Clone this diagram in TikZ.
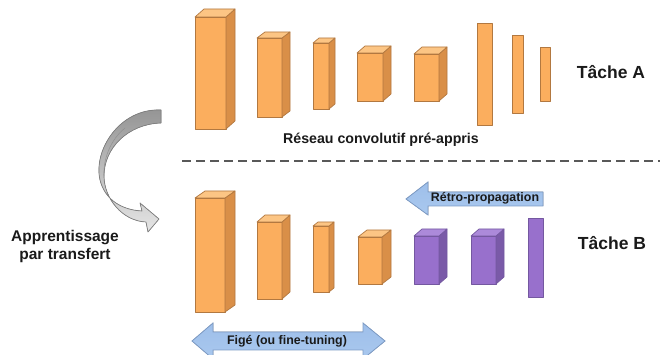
\documentclass[tikz,border=0pt]{standalone}
\usepackage{fontspec}
\setmainfont{Liberation Sans}
\usetikzlibrary{calc}
\definecolor{orF}{HTML}{FBAE5E}
\definecolor{orS}{HTML}{D98F48}
\definecolor{orT}{HTML}{FCC584}
\definecolor{orL}{HTML}{B27840}
\definecolor{puF}{HTML}{9870CC}
\definecolor{puS}{HTML}{7A5AA8}
\definecolor{puT}{HTML}{AC8ADA}
\definecolor{puL}{HTML}{7458A0}
\definecolor{blF}{HTML}{A9C8EE}
\definecolor{blT}{HTML}{9EBFEA}
\definecolor{blL}{HTML}{7E9CC6}
\definecolor{txt}{HTML}{1A1A1A}
\tikzset{
  orfront/.style={fill=orF, draw=orL, line width=0.7pt, line join=round},
  orside/.style={fill=orS, draw=orL, line width=0.7pt, line join=round},
  ortop/.style={fill=orT, draw=orL, line width=0.7pt, line join=round},
  pufront/.style={fill=puF, draw=puL, line width=0.7pt, line join=round},
  puside/.style={fill=puS, draw=puL, line width=0.7pt, line join=round},
  putop/.style={fill=puT, draw=puL, line width=0.7pt, line join=round},
  blockarrow/.style={top color=blT, bottom color=blF, draw=blL, line width=0.8pt, line join=miter},
  lbl/.style={text=txt, font=\bfseries, inner sep=0pt, align=center},
}
% x1 y1 x2 y2 dx dy prefix
\newcommand{\mycuboid}[7]{%
  \filldraw[#7front] (#1,#2) rectangle (#3,#4);
  \filldraw[#7side] (#3,#2) -- ({#3+#5},{#2-#6}) -- ({#3+#5},{#4-#6}) -- (#3,#4) -- cycle;
  \filldraw[#7top] (#1,#2) -- ({#1+#5},{#2-#6}) -- ({#3+#5},{#2-#6}) -- (#3,#2) -- cycle;
}
\begin{document}
\begin{tikzpicture}[x=1pt,y=-1pt]
\useasboundingbox (0,0) rectangle (665,355);
\fill[white] (0,0) rectangle (665,355);

% ---- Top network (Tache A)
\mycuboid{195}{17}{226}{129}{9}{8}{or}
\mycuboid{257}{38}{282}{117}{8}{6}{or}
\mycuboid{313}{43}{329}{109}{6}{5}{or}
\mycuboid{357}{53}{383}{101}{8}{7}{or}
\mycuboid{414}{54}{439}{101}{8}{7}{or}
\filldraw[orfront] (477,23) rectangle (492,125);
\filldraw[orfront] (512,35) rectangle (523,113);
\filldraw[orfront] (540,47) rectangle (550,101);

\node[lbl, font=\bfseries\fontsize{17.5}{20}\selectfont] (taskA) at (611,72) {Tâche A};
\node[lbl, font=\bfseries\fontsize{14.2}{17}\selectfont] (reseau) at (381,140) {Réseau convolutif pré-appris};

% ---- dashed separator
\coordinate (dl) at (182,161);
\coordinate (dr) at (660,161);
\draw[draw=black!65, line width=1.8pt, dash pattern=on 9pt off 5pt] (dl) -- (dr);

% ---- Bottom network (Tache B)
\mycuboid{195}{198}{225}{312}{10}{7}{or}
\mycuboid{257}{222}{282}{299}{8}{7}{or}
\mycuboid{313}{226}{329}{292}{5}{4}{or}
\mycuboid{358}{237}{382}{284}{9}{7}{or}
\mycuboid{414}{236}{439}{284}{8}{7}{pu}
\mycuboid{471}{236}{496}{284}{8}{7}{pu}
\filldraw[pufront] (528,218) rectangle (543,297);

\node[lbl, font=\bfseries\fontsize{17.5}{20}\selectfont] (taskB) at (612,243) {Tâche B};

% ---- Retro-propagation arrow
\filldraw[blockarrow] (406,199) -- (428,182) -- (428,192) -- (543,192) -- (543,206)
  -- (428,206) -- (428,215) -- cycle;
\node[lbl, font=\bfseries\fontsize{12.4}{14}\selectfont] (retro) at (485,198.5) {Rétro-propagation};

% ---- Fige arrow (double)
\filldraw[blockarrow] (192,341) -- (213,323) -- (213,332) -- (363,332) -- (363,323)
  -- (385,341) -- (363,359) -- (363,350) -- (213,350) -- (213,359) -- cycle;
\node[lbl, font=\bfseries\fontsize{12.4}{14}\selectfont] (fige) at (287,341.5) {Figé (ou fine-tuning)};

% ---- curved transfer arrow
\filldraw[top color=black!42, bottom color=black!10, draw=black!50, line width=0.7pt, line join=round]
  (161,110) .. controls (120,108) and (93,150) .. (100,180)
  .. controls (105,200) and (122,210) .. (142,211)
  -- (140,203) -- (159,219) -- (148,232) -- (146,222)
  .. controls (122,221) and (104,198) .. (104,176)
  .. controls (104,148) and (128,124) .. (161,123) -- cycle;
\draw[black!45, line width=0.4pt] (104,176) .. controls (103,160) and (110,140) .. (125,128);

\node[lbl, font=\bfseries\fontsize{15.5}{18}\selectfont] (transfer) at (65,246) {Apprentissage\\par transfert};
\end{tikzpicture}
\end{document}
